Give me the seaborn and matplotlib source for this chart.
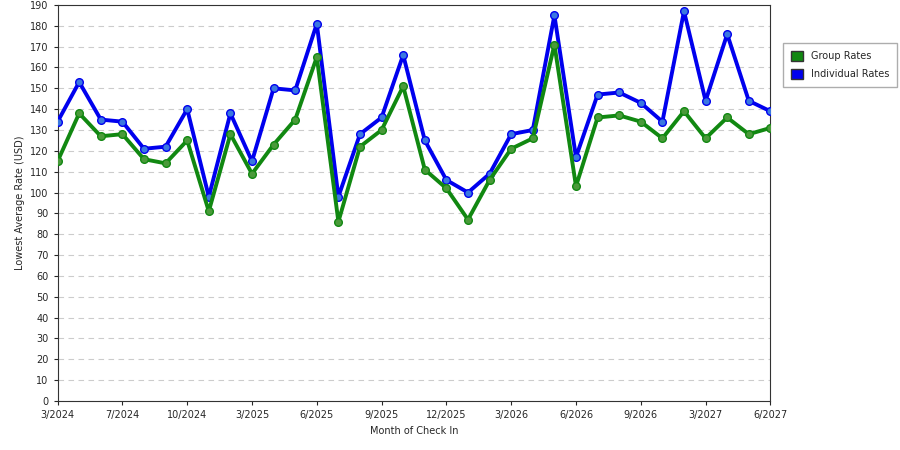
import matplotlib
matplotlib.use("Agg")
import matplotlib.pyplot as plt
import seaborn as sns
import pandas as pd
from matplotlib.patches import Patch

months = ["3/2024","4/2024","5/2024","7/2024","8/2024","9/2024","10/2024","11/2024","1/2025","3/2025",
          "4/2025","5/2025","6/2025","7/2025","8/2025","9/2025","10/2025","11/2025","12/2025","1/2026",
          "2/2026","3/2026","4/2026","5/2026","6/2026","7/2026","8/2026","9/2026","10/2026","1/2027",
          "3/2027","4/2027","5/2027","6/2027"]
group_rates = [115,138,127,128,116,114,125,91,128,109,123,135,165,86,122,130,151,111,102,87,
               106,121,126,171,103,136,137,134,126,139,126,136,128,131]
individual_rates = [134,153,135,134,121,122,140,98,138,115,150,149,181,98,128,136,166,125,106,100,
                    109,128,130,185,117,147,148,143,134,187,144,176,144,139]

sns.set_style("white")
plt.rcParams['font.family'] = ['DejaVu Sans']
df = pd.DataFrame({"idx": range(len(months)), "Group Rates": group_rates, "Individual Rates": individual_rates})
fig = plt.figure(figsize=(9, 4.5), dpi=100)
ax = fig.add_axes([0.064, 0.109, 0.792, 0.88])
for col, lc, mc in [("Individual Rates", "#0000ee", "#3a78e0"), ("Group Rates", "#118811", "#4a9a3a")]:
    sns.lineplot(data=df, x="idx", y=col, ax=ax, color=lc, linewidth=2.8, marker="o",
                 markersize=5.5, markerfacecolor=mc, markeredgecolor=lc, markeredgewidth=1, zorder=3)
ax.set_xlim(0, len(months) - 1)
ax.set_ylim(0, 190)
ax.set_yticks(range(0, 191, 10))
ax.set_xticks(range(0, len(months), 3))
ax.set_xticklabels(months[::3])
ax.tick_params(labelsize=7, length=3, direction="out", bottom=True, left=True)
ax.yaxis.grid(True, linestyle=(0, (5, 4)), color="#cccccc", linewidth=0.8)
ax.set_axisbelow(True)
for s in ax.spines.values():
    s.set_color("#333333"); s.set_linewidth(0.8)
ax.set_xlabel("Month of Check In", fontsize=7)
ax.set_ylabel("Lowest Average Rate (USD)", fontsize=7)
handles = [Patch(facecolor="#118811", edgecolor="#333333", label="Group Rates"),
           Patch(facecolor="#0000ee", edgecolor="#333333", label="Individual Rates")]
fig.legend(handles=handles, loc="upper left", bbox_to_anchor=(0.865, 0.915), fontsize=7,
           frameon=True, fancybox=False, edgecolor="#999999", handlelength=1.2, handleheight=1.2,
           borderpad=0.8, labelspacing=0.8)
fig.savefig("out.png", dpi=100)
